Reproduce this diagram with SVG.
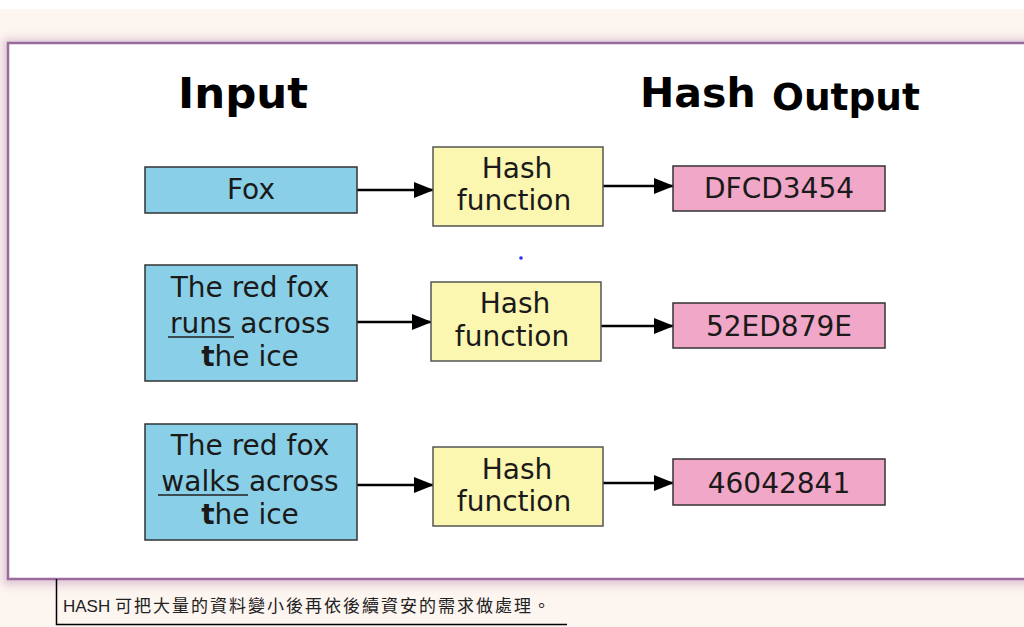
<svg xmlns="http://www.w3.org/2000/svg" width="1024" height="627" viewBox="0 0 1024 627">
<defs>
<marker id="ah" markerWidth="20" markerHeight="16" refX="19" refY="8" orient="auto" markerUnits="userSpaceOnUse">
<path d="M0,0 L20,8 L0,16 Z" fill="#000"/>
</marker>
<filter id="sh" x="-5%" y="-5%" width="110%" height="110%">
<feGaussianBlur stdDeviation="4"/>
</filter>
</defs>
<style>
.in{fill:#89cfe7;stroke:#333;stroke-width:1.5}
.hf{fill:#fbf6b0;stroke:#555;stroke-width:1.5}
.out{fill:#f1a7c8;stroke:#333;stroke-width:1.5}
.t{font-family:"DejaVu Sans",sans-serif;font-size:28px;fill:#1a1a1a;text-anchor:middle}
.h{font-family:"DejaVu Sans",sans-serif;font-weight:bold;fill:#000}
.c{stroke:#000;stroke-width:2.5;fill:none}
</style>
<rect x="0" y="0" width="1024" height="627" fill="#fff"/>
<rect x="0" y="9" width="1024" height="618" fill="#fdf5f0"/>
<rect x="3" y="39" width="1030" height="546" fill="#c9a6c4" opacity="0.6" filter="url(#sh)"/>
<rect x="8" y="43" width="1030" height="536" fill="#fff" stroke="#9b6b9e" stroke-width="2.5"/>
<g id="titles">
<text class="h" x="178" y="108" font-size="43.5">Input</text>
<text class="h" x="640" y="107" font-size="41">Hash</text>
<text class="h" x="772" y="110" font-size="37.5">Output</text>
</g>
<g id="connectors">
<line class="c" x1="357" y1="190" x2="433" y2="190" marker-end="url(#ah)"/>
<line class="c" x1="357" y1="322" x2="431" y2="322" marker-end="url(#ah)"/>
<line class="c" x1="357" y1="485" x2="433" y2="485" marker-end="url(#ah)"/>
<line class="c" x1="603" y1="186" x2="673" y2="186" marker-end="url(#ah)"/>
<line class="c" x1="601" y1="326" x2="673" y2="326" marker-end="url(#ah)"/>
<line class="c" x1="603" y1="483" x2="673" y2="483" marker-end="url(#ah)"/>
</g>
<g id="in1"><rect class="in" x="145" y="167" width="212" height="46"/><text class="t" x="251" y="199">Fox</text></g>
<g id="in2"><rect class="in" x="145" y="265" width="212" height="116"/>
<text class="t" x="250" y="297">The red fox</text>
<text class="t" x="250" y="333">runs across</text>
<text class="t" x="250" y="366"><tspan font-weight="bold">t</tspan>he ice</text>
<line x1="168" y1="337" x2="234" y2="337" stroke="#222" stroke-width="1.5"/>
</g>
<g id="in3"><rect class="in" x="145" y="424" width="212" height="116"/>
<text class="t" x="250" y="455">The red fox</text>
<text class="t" x="250" y="491">walks across</text>
<text class="t" x="250" y="524"><tspan font-weight="bold">t</tspan>he ice</text>
<line x1="158" y1="495" x2="248" y2="495" stroke="#222" stroke-width="1.5"/>
</g>
<g id="hf1"><rect class="hf" x="433" y="147" width="170" height="79"/><text class="t" x="517" y="178">Hash</text><text class="t" x="514" y="210">function</text></g>
<g id="hf2"><rect class="hf" x="431" y="282" width="170" height="79"/><text class="t" x="515" y="313">Hash</text><text class="t" x="512" y="346">function</text></g>
<g id="hf3"><rect class="hf" x="433" y="447" width="170" height="79"/><text class="t" x="517" y="479">Hash</text><text class="t" x="514" y="511">function</text></g>
<g id="out1"><rect class="out" x="673" y="166" width="212" height="45"/><text class="t" x="779" y="198">DFCD3454</text></g>
<g id="out2"><rect class="out" x="673" y="303" width="212" height="45"/><text class="t" x="779" y="336">52ED879E</text></g>
<g id="out3"><rect class="out" x="673" y="459" width="212" height="46"/><text class="t" x="779" y="493">46042841</text></g>
<circle cx="521" cy="258" r="1.8" fill="#2233ee"/>
<g id="caption">
<path d="M56.5,579 V624.5 H567" fill="none" stroke="#000" stroke-width="1.5"/>
<text x="63" y="612" font-family="'Liberation Sans','Noto Sans CJK TC',sans-serif" font-size="17" fill="#222"><tspan>HASH </tspan><tspan letter-spacing="2">可把大量的資料變小後再依後續資安的需求做處理。</tspan></text>
</g>
</svg>
